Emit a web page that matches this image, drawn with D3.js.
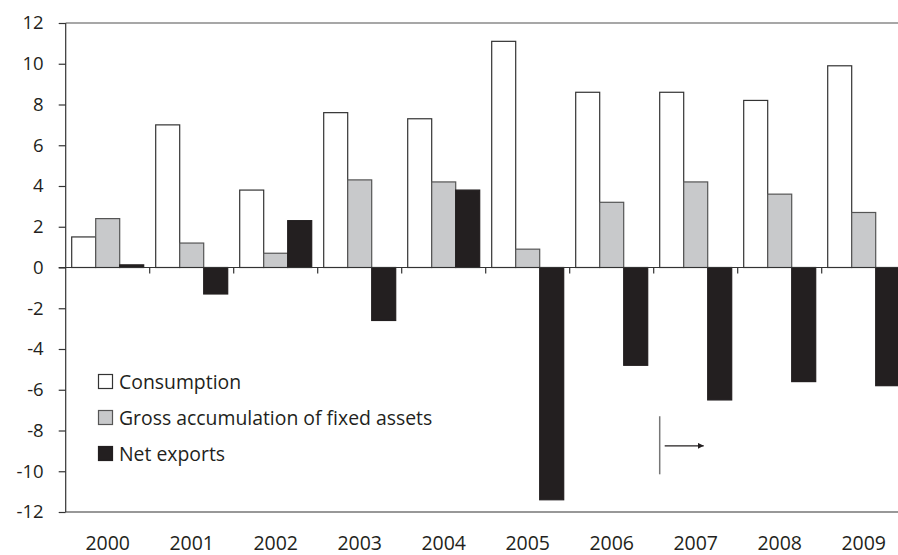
<!DOCTYPE html>
<html>
<head>
<meta charset="utf-8">
<script src="https://cdn.jsdelivr.net/npm/d3@7"></script>
<style>
  html, body { margin: 0; padding: 0; background: #fff; }
  svg { display: block; font-family: "Open Sans", sans-serif; }
</style>
</head>
<body>
<svg id="chart" width="898" height="555"></svg>
<script>
const years = ["2000","2001","2002","2003","2004","2005","2006","2007","2008","2009"];
const seriesNames = ["Consumption", "Gross accumulation of fixed assets", "Net exports"];
const consumption = [1.5, 7.0, 3.8, 7.6, 7.3, 11.1, 8.6, 8.6, 8.2, 9.9];
const grossAccumulation = [2.4, 1.2, 0.7, 4.3, 4.2, 0.9, 3.2, 4.2, 3.6, 2.7];
const netExports = [0.13, -1.3, 2.3, -2.6, 3.8, -11.4, -4.8, -6.5, -5.6, -5.8];
const yTicks = [12, 10, 8, 6, 4, 2, 0, -2, -4, -6, -8, -10, -12];

(function () {
const seriesValues = [consumption, grossAccumulation, netExports];
const fills = ["#ffffff", "#c8c9cb", "#231f20"];
const strokes = ["#333333", "#555555", "#231f20"];

const svg = d3.select("#chart");
const pLeft = 65.7, pRight = 905.7, pTop = 23, pBottom = 512;

const x0 = d3.scaleBand().domain(years).range([pLeft, pRight]).padding(0);
const x1 = d3.scaleBand().domain(seriesNames).range([0, x0.bandwidth()]).paddingInner(0).paddingOuter(0.25);
const y = d3.scaleLinear().domain([-12, 12]).range([pBottom, pTop]);

// top border line
svg.append("line").attr("x1", pLeft).attr("x2", 898).attr("y1", y(12)).attr("y2", y(12))
  .attr("stroke", "#8a8a8a").attr("stroke-width", 1.6);
// bottom border line
svg.append("line").attr("x1", pLeft).attr("x2", 898).attr("y1", y(-12)).attr("y2", y(-12))
  .attr("stroke", "#333").attr("stroke-width", 1.2);

// bars
const rows = years.map((yr, i) => ({ year: yr, vals: seriesNames.map((s, j) => ({ s, j, v: seriesValues[j][i] })) }));
const g = svg.append("g");
g.selectAll("g.cat").data(rows).join("g").attr("class", "cat")
  .attr("transform", d => `translate(${x0(d.year)},0)`)
  .selectAll("rect").data(d => d.vals).join("rect")
  .attr("x", d => x1(d.s))
  .attr("width", x1.bandwidth())
  .attr("y", d => y(Math.max(0, d.v)))
  .attr("height", d => Math.abs(y(d.v) - y(0)))
  .attr("fill", d => fills[d.j])
  .attr("stroke", d => strokes[d.j])
  .attr("stroke-width", 1.2);

// y axis
const yAxis = d3.axisLeft(y).tickValues(yTicks).tickSize(7).tickPadding(15).tickFormat(d => String(d));
const ya = svg.append("g").attr("transform", `translate(${pLeft},0)`).call(yAxis);
ya.select(".domain").attr("stroke", "#333").attr("stroke-width", 1.2).attr("d", `M0,${y(12)}V${y(-12)}`);
ya.selectAll(".tick line").attr("stroke", "#333").attr("stroke-width", 1.2);
ya.selectAll(".tick text").attr("fill", "#231f20").attr("font-size", 18.5).attr("font-family", "Open Sans");

// zero line with category ticks
svg.append("line").attr("x1", pLeft - 7).attr("x2", 898).attr("y1", y(0)).attr("y2", y(0))
  .attr("stroke", "#333").attr("stroke-width", 1.2);
svg.append("g").selectAll("line").data(years.slice(1)).join("line")
  .attr("x1", d => x0(d)).attr("x2", d => x0(d))
  .attr("y1", y(0)).attr("y2", y(0) + 6)
  .attr("stroke", "#333").attr("stroke-width", 1.2);

// x labels
svg.append("g").selectAll("text").data(years).join("text")
  .attr("x", d => x0(d) + x0.bandwidth() / 2)
  .attr("y", 550)
  .attr("text-anchor", "middle")
  .attr("font-size", 19.5)
  .attr("fill", "#231f20")
  .text(d => d);

// legend
const legend = svg.append("g").attr("transform", "translate(98,374)");
const li = legend.selectAll("g").data(seriesNames).join("g")
  .attr("transform", (d, i) => `translate(0,${i * 36})`);
li.append("rect").attr("x", 0.5).attr("y", 0.5).attr("width", 14).attr("height", 14)
  .attr("fill", (d, i) => fills[i]).attr("stroke", (d, i) => strokes[i]).attr("stroke-width", 1.2);
li.append("text").attr("x", 21).attr("y", 15).attr("font-size", 19.4).attr("fill", "#231f20").text(d => d);

// annotation: vertical line and arrow
const ax = x0("2007") + 6;
svg.append("line").attr("x1", ax).attr("x2", ax).attr("y1", y(-7.3)).attr("y2", y(-10.15))
  .attr("stroke", "#777").attr("stroke-width", 1.5);
const defs = svg.append("defs");
defs.append("marker").attr("id", "arr").attr("viewBox", "0 0 10 10").attr("refX", 10).attr("refY", 5)
  .attr("markerWidth", 6).attr("markerHeight", 6).attr("markerUnits", "userSpaceOnUse").attr("orient", "auto")
  .append("path").attr("d", "M0,0L10,5L0,10Z").attr("fill", "#231f20");
svg.append("line").attr("x1", ax + 5).attr("x2", ax + 44).attr("y1", y(-8.75)).attr("y2", y(-8.75))
  .attr("stroke", "#231f20").attr("stroke-width", 1.2).attr("marker-end", "url(#arr)");
})();
</script>
</body>
</html>
